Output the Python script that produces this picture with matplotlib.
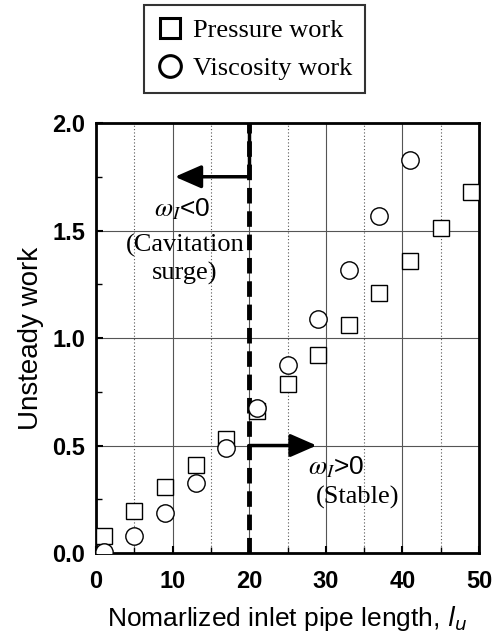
import numpy as np
import matplotlib.pyplot as plt
from matplotlib.ticker import MultipleLocator

# pipe length for each series
x_pressure = [1, 5, 9, 13, 17, 21, 25, 29, 33, 37, 41, 45, 49]
y_pressure = [0.08, 0.195, 0.305, 0.41, 0.53, 0.66, 0.785, 0.92, 1.06, 1.21, 1.36, 1.51, 1.68]

x_viscosity = [1, 5, 9, 13, 17, 21, 25, 29, 33, 37, 41]
y_viscosity = [0.005, 0.08, 0.187, 0.325, 0.487, 0.673, 0.874, 1.088, 1.316, 1.567, 1.83]

boundary_x = 20

SANS = "Liberation Sans"
SERIF = "Liberation Serif"

fig = plt.figure(figsize=(4.99, 6.42), dpi=100)
ax = fig.add_axes([0.1924, 0.1386, 0.7676, 0.6698])

ax.plot(x_pressure, y_pressure, ls="none", marker="s", ms=12, mfc="white",
        mec="black", mew=1.0, label="Pressure work", zorder=4)
ax.plot(x_viscosity, y_viscosity, ls="none", marker="o", ms=12.5, mfc="white",
        mec="black", mew=1.0, label="Viscosity work", zorder=5)

ax.set_xlim(0, 50)
ax.set_ylim(0, 2.0)
ax.xaxis.set_major_locator(MultipleLocator(10))
ax.xaxis.set_minor_locator(MultipleLocator(5))
ax.yaxis.set_major_locator(MultipleLocator(0.5))
ax.yaxis.set_minor_locator(MultipleLocator(0.25))

ax.grid(which="major", color="#555555", lw=0.8, ls="-")
ax.grid(which="minor", axis="x", color="#555555", lw=0.8, ls=(0, (1, 2)))
ax.tick_params(which="both", direction="in", top=False, right=False)
ax.tick_params(which="major", length=5, width=1.5)
ax.tick_params(which="minor", length=4, width=1.0)
ax.tick_params(axis="x", pad=12)
ax.tick_params(axis="y", pad=8)
ax.set_xticks([0, 10, 20, 30, 40, 50])
ax.set_xticklabels(["0", "10", "20", "30", "40", "50"], fontweight="bold",
                   family=SANS, fontsize=17)
ax.set_yticks([0, 0.5, 1.0, 1.5, 2.0])
ax.set_yticklabels(["0.0", "0.5", "1.0", "1.5", "2.0"], fontweight="bold",
                   family=SANS, fontsize=17)
for s in ax.spines.values():
    s.set_linewidth(2)

ax.axvline(boundary_x, color="black", lw=3.5, ls=(0, (3.2, 1.6)), zorder=3)

arrow = dict(arrowstyle="-|>,head_length=1.6,head_width=0.7",
             color="black", lw=2.5, shrinkA=0, shrinkB=0)
ax.annotate("", xy=(10.3, 1.75), xytext=(boundary_x, 1.75), arrowprops=arrow)
ax.plot([boundary_x, boundary_x], [1.75, 2.0], color="black", lw=2.5)
ax.annotate("", xy=(28.8, 0.5), xytext=(boundary_x, 0.5), arrowprops=arrow)

ax.text(11.2, 1.60, r"$\omega_I$<0", ha="center", va="center", fontsize=19,
        family=SANS, math_fontfamily="stix")
ax.text(11.6, 1.43, "(Cavitation", ha="center", va="center", fontsize=19,
        family=SERIF)
ax.text(11.6, 1.30, "surge)", ha="center", va="center", fontsize=19,
        family=SERIF)
ax.text(31.4, 0.40, r"$\omega_I$>0", ha="center", va="center", fontsize=19,
        family=SANS, math_fontfamily="stix")
ax.text(34.2, 0.26, "(Stable)", ha="center", va="center", fontsize=19,
        family=SERIF)

ax.set_xlabel(r"Nomarlized inlet pipe length, $l_u$", fontsize=19,
              family=SANS, labelpad=8)
ax.set_ylabel("Unsteady work", fontsize=20, family=SANS, labelpad=6)

leg = fig.legend(loc="upper center", bbox_to_anchor=(0.51, 0.992),
                 prop={"family": SERIF, "size": 19}, markerscale=1.25,
                 frameon=True, fancybox=False, edgecolor="black",
                 handletextpad=0.35, handlelength=1.0, borderpad=0.5,
                 labelspacing=0.55, borderaxespad=0)
leg.get_frame().set_linewidth(1.5)
for h in leg.legend_handles:
    h.set_markeredgewidth(2.2)

fig.savefig("out.png", dpi=100)
